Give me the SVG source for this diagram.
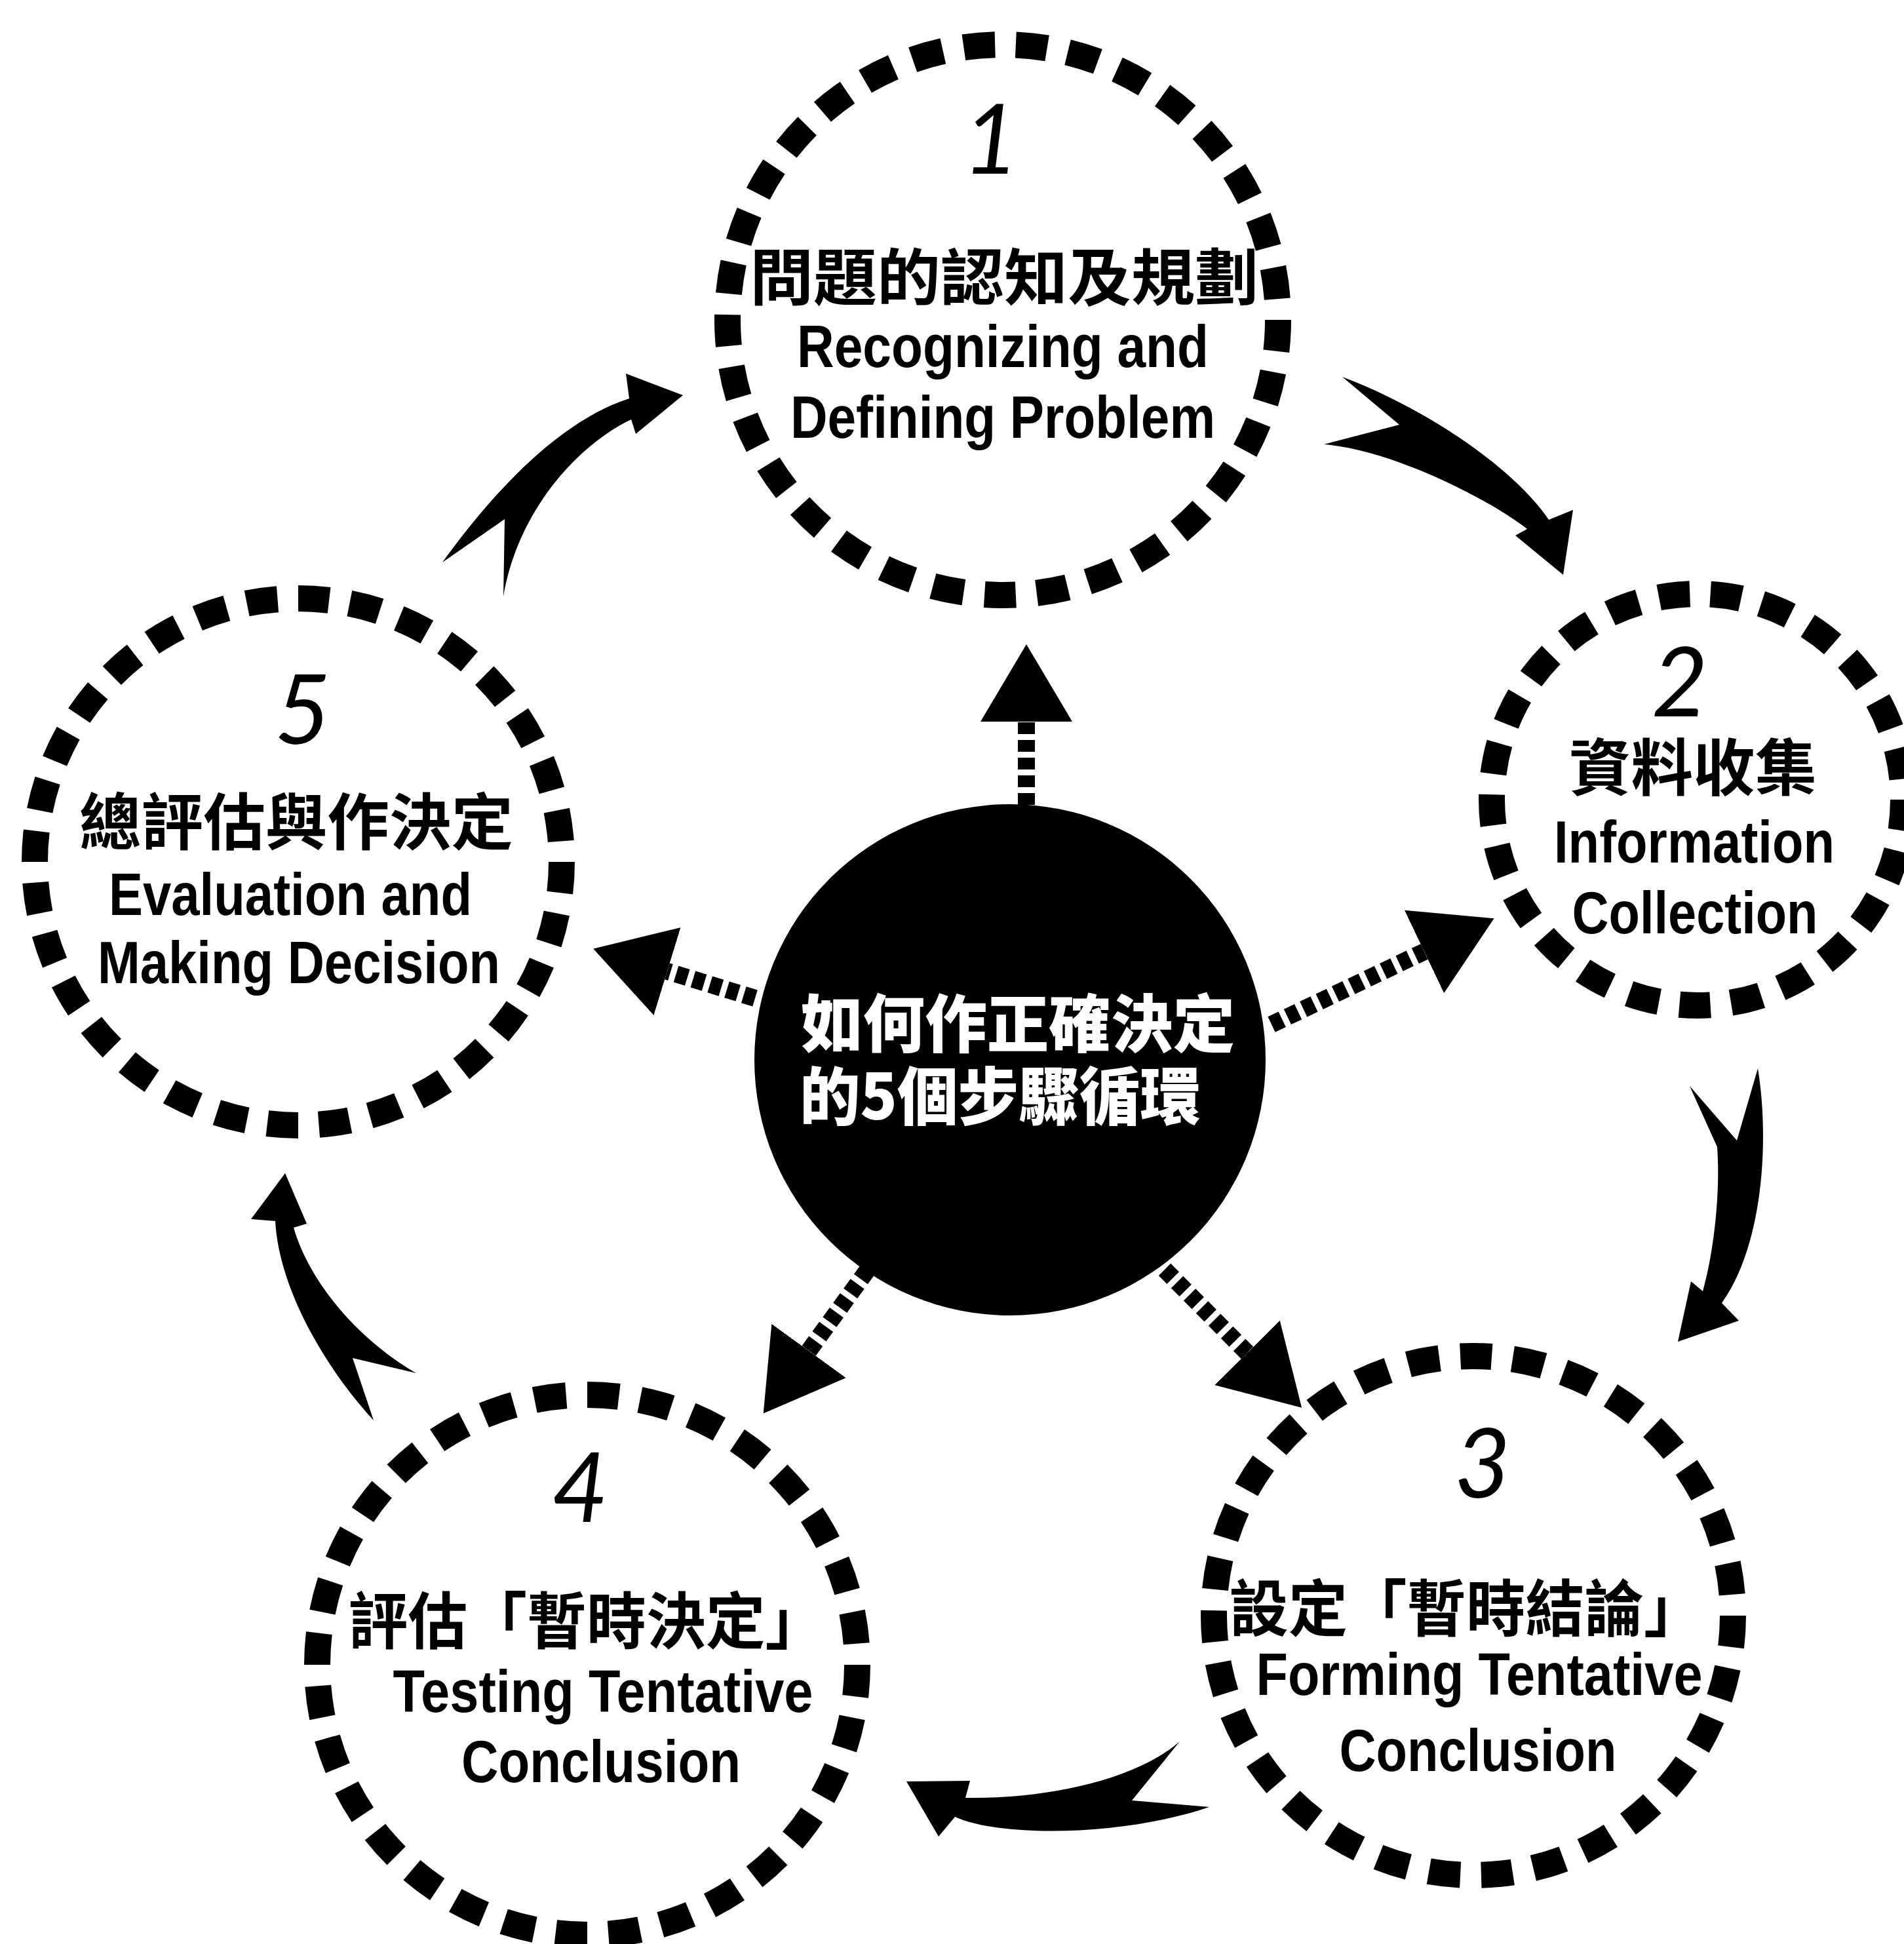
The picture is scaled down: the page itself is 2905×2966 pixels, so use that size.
<svg xmlns="http://www.w3.org/2000/svg" width="2905" height="2966" viewBox="0 0 2905 2966">
<style>
.ring{fill:none;stroke:#000;stroke-width:40;stroke-dasharray:48 32}
.num{font-family:Lato,"Open Sans","DejaVu Sans",sans-serif;font-weight:400;font-style:italic;font-size:148px;fill:#000;text-anchor:middle}
.zh{font-family:"Noto Sans CJK TC","Noto Sans CJK SC",sans-serif;font-weight:700;font-size:94px;fill:#000;text-anchor:middle}
.en{font-family:"Liberation Sans",Arial,sans-serif;font-weight:700;font-size:90px;fill:#000;text-anchor:middle}
.hub{font-family:"Noto Sans CJK TC","Noto Sans CJK SC",sans-serif;font-weight:900;font-size:96px;fill:#fff}
.dot{fill:none;stroke:#000;stroke-width:26;stroke-dasharray:18 9;marker-end:url(#tri)}
.big{fill:#000}
</style>
<defs>
<marker id="tri" markerUnits="userSpaceOnUse" viewBox="0 0 118 140" refX="0" refY="70" markerWidth="118" markerHeight="140" orient="auto"><path d="M0,0 L118,70 L0,140 Z" fill="#000"/></marker>
</defs>
<rect width="2905" height="2966" fill="#fff"/>

<g id="connectors">
<path class="big" d="M2048,575 C2180,625 2310,715 2363,793 L2400,778 L2385,877 L2312,817 L2330,807 C2270,760 2120,685 2020,678 L2135,648 Z"/>
<path class="big" d="M2682,1630 C2700,1740 2690,1900 2627,1988 L2653,2015 L2560,2047 L2580,1955 L2598,1970 C2615,1910 2625,1820 2620,1750 L2578,1657 L2650,1740 Z"/>
<path class="big" d="M1800,2657 C1730,2718 1590,2745 1473,2743 L1480,2717 L1383,2718 L1432,2802 L1457,2772 C1530,2805 1720,2800 1845,2757 L1727,2747 Z"/>
<path class="big" d="M435,1790 L468,1867 L448,1873 C470,1950 540,2040 635,2095 L538,2072 L570,2167 C490,2080 425,1960 420,1863 L383,1860 Z"/>
<path class="big" d="M675,858 C760,740 860,640 960,608 L955,570 L1042,603 L970,662 L963,640 C880,680 790,780 768,910 L770,792 Z"/>
<path class="dot" d="M1566,1228 L1566,1101"/>
<path class="dot" d="M1940,1563 L2173,1452"/>
<path class="dot" d="M1152,1523 L1018,1482"/>
<path class="dot" d="M1324,1937 L1234,2061"/>
<path class="dot" d="M1777,1937 L1903,2064"/>
</g>

<g id="hub">
<circle cx="1541" cy="1617" r="390" fill="#000"/>
<text class="hub" x="1222" y="1597" textLength="662" lengthAdjust="spacingAndGlyphs">如何作正確決定</text>
<text class="hub" x="1220" y="1708" textLength="612" lengthAdjust="spacingAndGlyphs">的5個步驟循環</text>
</g>

<g id="step1">
<circle class="ring" cx="1530" cy="488" r="420" pathLength="2640"/>
<text class="num" x="1512" y="265">1</text>
<text class="zh" x="1532" y="458" textLength="776" lengthAdjust="spacingAndGlyphs">問題的認知及規劃</text>
<text class="en" x="1530" y="560" textLength="628" lengthAdjust="spacingAndGlyphs">Recognizing and</text>
<text class="en" x="1530" y="668" textLength="648" lengthAdjust="spacingAndGlyphs">Defining Problem</text>
</g>

<g id="step2">
<circle class="ring" cx="2590" cy="1220" r="314" pathLength="2000"/>
<text class="num" x="2563" y="1093">2</text>
<text class="zh" x="2583" y="1206" textLength="378" lengthAdjust="spacingAndGlyphs">資料收集</text>
<text class="en" x="2585" y="1316" textLength="428" lengthAdjust="spacingAndGlyphs">Information</text>
<text class="en" x="2586" y="1424" textLength="375" lengthAdjust="spacingAndGlyphs">Collection</text>
</g>

<g id="step3">
<circle class="ring" cx="2248" cy="2465" r="396" pathLength="2480"/>
<text class="num" x="2262" y="2285">3</text>
<text class="zh" x="2237" y="2489" textLength="723" lengthAdjust="spacingAndGlyphs">設定「暫時結論」</text>
<text class="en" x="2257" y="2586" textLength="681" lengthAdjust="spacingAndGlyphs">Forming Tentative</text>
<text class="en" x="2255" y="2702" textLength="423" lengthAdjust="spacingAndGlyphs">Conclusion</text>
</g>

<g id="step4">
<circle class="ring" cx="896" cy="2540" r="412" pathLength="2560"/>
<text class="num" x="885" y="2322">4</text>
<text class="zh" x="895" y="2508" textLength="727" lengthAdjust="spacingAndGlyphs">評估「暫時決定」</text>
<text class="en" x="920" y="2612" textLength="641" lengthAdjust="spacingAndGlyphs">Testing Tentative</text>
<text class="en" x="917" y="2719" textLength="426" lengthAdjust="spacingAndGlyphs">Conclusion</text>
</g>

<g id="step5">
<circle class="ring" cx="455" cy="1315" r="402" pathLength="2560"/>
<text class="num" x="462" y="1135">5</text>
<text class="zh" x="452" y="1289" textLength="662" lengthAdjust="spacingAndGlyphs">總評估與作決定</text>
<text class="en" x="443" y="1396" textLength="554" lengthAdjust="spacingAndGlyphs">Evaluation and</text>
<text class="en" x="456" y="1500" textLength="614" lengthAdjust="spacingAndGlyphs">Making Decision</text>
</g>
</svg>
